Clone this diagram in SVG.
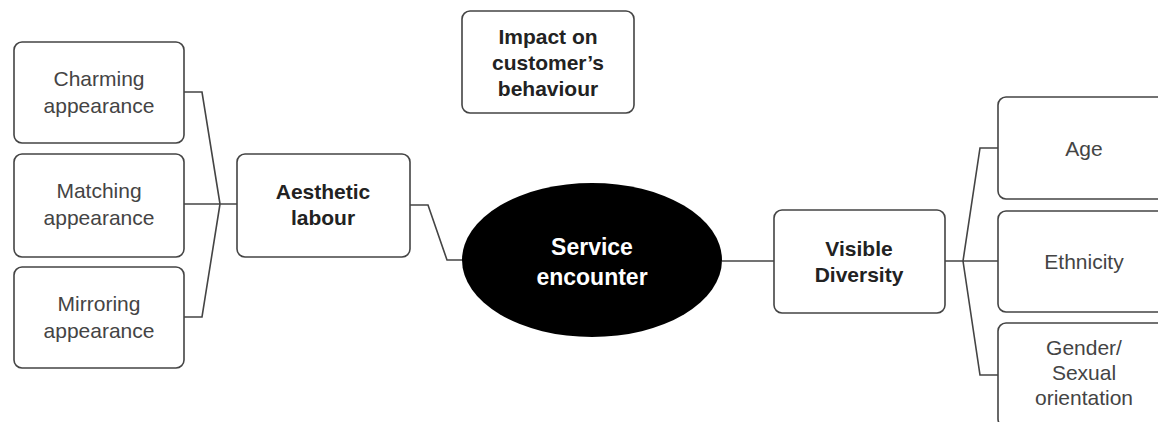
<svg xmlns="http://www.w3.org/2000/svg" width="1158" height="422" viewBox="0 0 1158 422">
<style>
.box{fill:#fff;stroke:#444;stroke-width:1.6}
.t{font-family:"Liberation Sans",Arial,sans-serif;font-size:21px;fill:#444;text-anchor:middle}
.b{font-family:"Liberation Sans",Arial,sans-serif;font-size:21px;font-weight:bold;fill:#222;text-anchor:middle}
.w{font-family:"Liberation Sans",Arial,sans-serif;font-size:23px;font-weight:bold;fill:#fff;text-anchor:middle}
.c{fill:none;stroke:#444;stroke-width:1.6}
</style>
<rect width="1158" height="422" fill="#fff"/>
<g id="connectors">
<polyline class="c" points="184,92 202,92 220,204"/>
<polyline class="c" points="184,204 237,204"/>
<polyline class="c" points="184,317 202,317 220,204"/>
<polyline class="c" points="410,205 428,205 447,260 463,260"/>
<polyline class="c" points="722,261 774,261"/>
<polyline class="c" points="945,261 963,261 980,148 998,148"/>
<polyline class="c" points="963,261 998,261"/>
<polyline class="c" points="963,261 980,375 998,375"/>
</g>
<g id="charming"><rect class="box" x="14" y="42" width="170" height="101" rx="8"/><text class="t" x="99" y="86">Charming</text><text class="t" x="99" y="113">appearance</text></g>
<g id="matching"><rect class="box" x="14" y="154" width="170" height="103" rx="8"/><text class="t" x="99" y="198">Matching</text><text class="t" x="99" y="225">appearance</text></g>
<g id="mirroring"><rect class="box" x="14" y="267" width="170" height="101" rx="8"/><text class="t" x="99" y="311">Mirroring</text><text class="t" x="99" y="338">appearance</text></g>
<g id="aesthetic"><rect class="box" x="237" y="154" width="173" height="103" rx="8"/><text class="b" x="323" y="199">Aesthetic</text><text class="b" x="323" y="225">labour</text></g>
<g id="impact"><rect class="box" x="462" y="11" width="172" height="102" rx="8"/><text class="b" x="548" y="44">Impact on</text><text class="b" x="548" y="70">customer’s</text><text class="b" x="548" y="96">behaviour</text></g>
<g id="service"><ellipse cx="592" cy="260" rx="130" ry="77" fill="#000"/><text class="w" x="592" y="255">Service</text><text class="w" x="592" y="285">encounter</text></g>
<g id="visible"><rect class="box" x="774" y="210" width="171" height="103" rx="8"/><text class="b" x="859" y="256">Visible</text><text class="b" x="859" y="282">Diversity</text></g>
<g id="age"><rect class="box" x="998" y="97" width="172" height="102" rx="8"/><text class="t" x="1084" y="156">Age</text></g>
<g id="ethnicity"><rect class="box" x="998" y="211" width="172" height="101" rx="8"/><text class="t" x="1084" y="269">Ethnicity</text></g>
<g id="gender"><rect class="box" x="998" y="323" width="172" height="104" rx="8"/><text class="t" x="1084" y="355">Gender/</text><text class="t" x="1084" y="380">Sexual</text><text class="t" x="1084" y="405">orientation</text></g>
</svg>
